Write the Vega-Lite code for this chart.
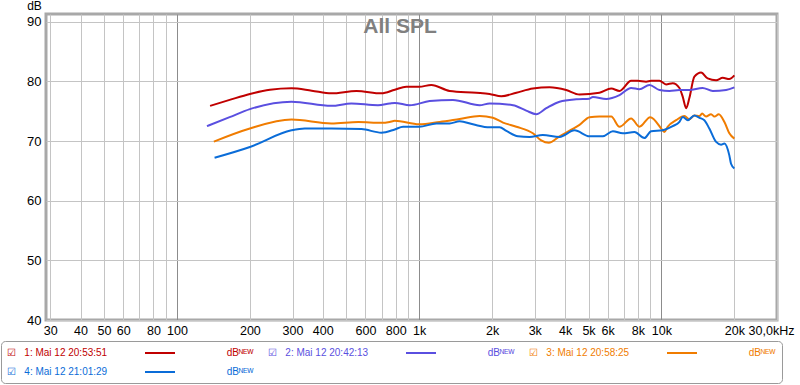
{
  "$schema": "https://vega.github.io/schema/vega-lite/v6.json",
  "width": 731,
  "height": 306,
  "autosize": {"type": "none"},
  "padding": {"left": 46, "top": 14, "right": 23, "bottom": 65},
  "background": "white",
  "title": {"text": "All SPL", "anchor": "middle", "frame": "group", "offset": -55, "dx": -11.5, "fontSize": 21, "fontWeight": "bold", "color": "#808080", "font": "Liberation Sans", "baseline": "alphabetic"},
  "datasets": {
    "spl": [
      {"series": "1: Mai 12 20:53:51", "f": 137, "db": 75.9},
      {"series": "1: Mai 12 20:53:51", "f": 165, "db": 76.9},
      {"series": "1: Mai 12 20:53:51", "f": 200, "db": 77.9},
      {"series": "1: Mai 12 20:53:51", "f": 242, "db": 78.6},
      {"series": "1: Mai 12 20:53:51", "f": 297, "db": 78.85},
      {"series": "1: Mai 12 20:53:51", "f": 360, "db": 78.45},
      {"series": "1: Mai 12 20:53:51", "f": 434, "db": 78.0},
      {"series": "1: Mai 12 20:53:51", "f": 551, "db": 78.4},
      {"series": "1: Mai 12 20:53:51", "f": 698, "db": 78.0},
      {"series": "1: Mai 12 20:53:51", "f": 793, "db": 78.6},
      {"series": "1: Mai 12 20:53:51", "f": 885, "db": 79.1},
      {"series": "1: Mai 12 20:53:51", "f": 1000, "db": 79.1},
      {"series": "1: Mai 12 20:53:51", "f": 1122, "db": 79.4},
      {"series": "1: Mai 12 20:53:51", "f": 1336, "db": 78.4},
      {"series": "1: Mai 12 20:53:51", "f": 1721, "db": 78.1},
      {"series": "1: Mai 12 20:53:51", "f": 1953, "db": 77.9},
      {"series": "1: Mai 12 20:53:51", "f": 2183, "db": 77.5},
      {"series": "1: Mai 12 20:53:51", "f": 2519, "db": 78.1},
      {"series": "1: Mai 12 20:53:51", "f": 2947, "db": 78.8},
      {"series": "1: Mai 12 20:53:51", "f": 3452, "db": 79.0},
      {"series": "1: Mai 12 20:53:51", "f": 4045, "db": 78.55},
      {"series": "1: Mai 12 20:53:51", "f": 4590, "db": 77.8},
      {"series": "1: Mai 12 20:53:51", "f": 5549, "db": 78.1},
      {"series": "1: Mai 12 20:53:51", "f": 6206, "db": 78.8},
      {"series": "1: Mai 12 20:53:51", "f": 6714, "db": 78.4},
      {"series": "1: Mai 12 20:53:51", "f": 7500, "db": 80.1},
      {"series": "1: Mai 12 20:53:51", "f": 7985, "db": 80.1},
      {"series": "1: Mai 12 20:53:51", "f": 8644, "db": 79.95},
      {"series": "1: Mai 12 20:53:51", "f": 9072, "db": 80.1},
      {"series": "1: Mai 12 20:53:51", "f": 9817, "db": 80.1},
      {"series": "1: Mai 12 20:53:51", "f": 10450, "db": 79.5},
      {"series": "1: Mai 12 20:53:51", "f": 11130, "db": 79.7},
      {"series": "1: Mai 12 20:53:51", "f": 11870, "db": 78.9},
      {"series": "1: Mai 12 20:53:51", "f": 12250, "db": 77.4},
      {"series": "1: Mai 12 20:53:51", "f": 12650, "db": 75.5},
      {"series": "1: Mai 12 20:53:51", "f": 13040, "db": 77.2},
      {"series": "1: Mai 12 20:53:51", "f": 13680, "db": 80.8},
      {"series": "1: Mai 12 20:53:51", "f": 14580, "db": 81.5},
      {"series": "1: Mai 12 20:53:51", "f": 15520, "db": 80.5},
      {"series": "1: Mai 12 20:53:51", "f": 16820, "db": 80.2},
      {"series": "1: Mai 12 20:53:51", "f": 17910, "db": 80.6},
      {"series": "1: Mai 12 20:53:51", "f": 19070, "db": 80.4},
      {"series": "1: Mai 12 20:53:51", "f": 20000, "db": 81.0},
      {"series": "2: Mai 12 20:42:13", "f": 133, "db": 72.5},
      {"series": "2: Mai 12 20:42:13", "f": 165, "db": 74.0},
      {"series": "2: Mai 12 20:42:13", "f": 200, "db": 75.35},
      {"series": "2: Mai 12 20:42:13", "f": 297, "db": 76.6},
      {"series": "2: Mai 12 20:42:13", "f": 434, "db": 75.9},
      {"series": "2: Mai 12 20:42:13", "f": 525, "db": 76.3},
      {"series": "2: Mai 12 20:42:13", "f": 676, "db": 76.0},
      {"series": "2: Mai 12 20:42:13", "f": 755, "db": 76.3},
      {"series": "2: Mai 12 20:42:13", "f": 793, "db": 76.4},
      {"series": "2: Mai 12 20:42:13", "f": 914, "db": 76.0},
      {"series": "2: Mai 12 20:42:13", "f": 1105, "db": 76.7},
      {"series": "2: Mai 12 20:42:13", "f": 1378, "db": 76.9},
      {"series": "2: Mai 12 20:42:13", "f": 1776, "db": 76.0},
      {"series": "2: Mai 12 20:42:13", "f": 1953, "db": 76.3},
      {"series": "2: Mai 12 20:42:13", "f": 2440, "db": 76.0},
      {"series": "2: Mai 12 20:42:13", "f": 2766, "db": 75.1},
      {"series": "2: Mai 12 20:42:13", "f": 3043, "db": 74.5},
      {"series": "2: Mai 12 20:42:13", "f": 3347, "db": 75.5},
      {"series": "2: Mai 12 20:42:13", "f": 3797, "db": 76.6},
      {"series": "2: Mai 12 20:42:13", "f": 4448, "db": 77.0},
      {"series": "2: Mai 12 20:42:13", "f": 5047, "db": 77.1},
      {"series": "2: Mai 12 20:42:13", "f": 5210, "db": 77.4},
      {"series": "2: Mai 12 20:42:13", "f": 5916, "db": 77.05},
      {"series": "2: Mai 12 20:42:13", "f": 6714, "db": 77.7},
      {"series": "2: Mai 12 20:42:13", "f": 7500, "db": 78.9},
      {"series": "2: Mai 12 20:42:13", "f": 8113, "db": 78.7},
      {"series": "2: Mai 12 20:42:13", "f": 8923, "db": 79.4},
      {"series": "2: Mai 12 20:42:13", "f": 9817, "db": 78.55},
      {"series": "2: Mai 12 20:42:13", "f": 10790, "db": 78.4},
      {"series": "2: Mai 12 20:42:13", "f": 11870, "db": 78.55},
      {"series": "2: Mai 12 20:42:13", "f": 13040, "db": 78.55},
      {"series": "2: Mai 12 20:42:13", "f": 14790, "db": 78.9},
      {"series": "2: Mai 12 20:42:13", "f": 16290, "db": 78.4},
      {"series": "2: Mai 12 20:42:13", "f": 18490, "db": 78.55},
      {"series": "2: Mai 12 20:42:13", "f": 20000, "db": 79.0},
      {"series": "3: Mai 12 20:58:25", "f": 142, "db": 69.9},
      {"series": "3: Mai 12 20:58:25", "f": 200, "db": 72.1},
      {"series": "3: Mai 12 20:58:25", "f": 297, "db": 73.6},
      {"series": "3: Mai 12 20:58:25", "f": 434, "db": 72.95},
      {"series": "3: Mai 12 20:58:25", "f": 561, "db": 73.2},
      {"series": "3: Mai 12 20:58:25", "f": 698, "db": 73.05},
      {"series": "3: Mai 12 20:58:25", "f": 755, "db": 73.2},
      {"series": "3: Mai 12 20:58:25", "f": 793, "db": 73.4},
      {"series": "3: Mai 12 20:58:25", "f": 1000, "db": 72.8},
      {"series": "3: Mai 12 20:58:25", "f": 1215, "db": 73.2},
      {"series": "3: Mai 12 20:58:25", "f": 1469, "db": 73.7},
      {"series": "3: Mai 12 20:58:25", "f": 1776, "db": 74.2},
      {"series": "3: Mai 12 20:58:25", "f": 2015, "db": 73.9},
      {"series": "3: Mai 12 20:58:25", "f": 2218, "db": 73.1},
      {"series": "3: Mai 12 20:58:25", "f": 2519, "db": 72.4},
      {"series": "3: Mai 12 20:58:25", "f": 2947, "db": 71.3},
      {"series": "3: Mai 12 20:58:25", "f": 3190, "db": 70.1},
      {"series": "3: Mai 12 20:58:25", "f": 3428, "db": 69.7},
      {"series": "3: Mai 12 20:58:25", "f": 3797, "db": 70.8},
      {"series": "3: Mai 12 20:58:25", "f": 4244, "db": 71.9},
      {"series": "3: Mai 12 20:58:25", "f": 4590, "db": 72.7},
      {"series": "3: Mai 12 20:58:25", "f": 5047, "db": 74.0},
      {"series": "3: Mai 12 20:58:25", "f": 5549, "db": 74.1},
      {"series": "3: Mai 12 20:58:25", "f": 6206, "db": 74.1},
      {"series": "3: Mai 12 20:58:25", "f": 6714, "db": 72.4},
      {"series": "3: Mai 12 20:58:25", "f": 7500, "db": 73.8},
      {"series": "3: Mai 12 20:58:25", "f": 8113, "db": 72.4},
      {"series": "3: Mai 12 20:58:25", "f": 8990, "db": 74.0},
      {"series": "3: Mai 12 20:58:25", "f": 10120, "db": 71.8},
      {"series": "3: Mai 12 20:58:25", "f": 10280, "db": 71.5},
      {"series": "3: Mai 12 20:58:25", "f": 10610, "db": 72.4},
      {"series": "3: Mai 12 20:58:25", "f": 11500, "db": 73.5},
      {"series": "3: Mai 12 20:58:25", "f": 12450, "db": 74.2},
      {"series": "3: Mai 12 20:58:25", "f": 13040, "db": 73.6},
      {"series": "3: Mai 12 20:58:25", "f": 13680, "db": 74.3},
      {"series": "3: Mai 12 20:58:25", "f": 14350, "db": 74.2},
      {"series": "3: Mai 12 20:58:25", "f": 14720, "db": 74.6},
      {"series": "3: Mai 12 20:58:25", "f": 15280, "db": 74.1},
      {"series": "3: Mai 12 20:58:25", "f": 16030, "db": 74.5},
      {"series": "3: Mai 12 20:58:25", "f": 16550, "db": 74.1},
      {"series": "3: Mai 12 20:58:25", "f": 17250, "db": 74.5},
      {"series": "3: Mai 12 20:58:25", "f": 18200, "db": 73.2},
      {"series": "3: Mai 12 20:58:25", "f": 19070, "db": 71.3},
      {"series": "3: Mai 12 20:58:25", "f": 20000, "db": 70.4},
      {"series": "4: Mai 12 21:01:29", "f": 143, "db": 67.2},
      {"series": "4: Mai 12 21:01:29", "f": 200, "db": 69.0},
      {"series": "4: Mai 12 21:01:29", "f": 297, "db": 71.8},
      {"series": "4: Mai 12 21:01:29", "f": 337, "db": 72.1},
      {"series": "4: Mai 12 21:01:29", "f": 434, "db": 72.1},
      {"series": "4: Mai 12 21:01:29", "f": 578, "db": 72.0},
      {"series": "4: Mai 12 21:01:29", "f": 698, "db": 71.4},
      {"series": "4: Mai 12 21:01:29", "f": 793, "db": 71.95},
      {"series": "4: Mai 12 21:01:29", "f": 858, "db": 72.4},
      {"series": "4: Mai 12 21:01:29", "f": 1000, "db": 72.4},
      {"series": "4: Mai 12 21:01:29", "f": 1178, "db": 72.95},
      {"series": "4: Mai 12 21:01:29", "f": 1336, "db": 72.95},
      {"series": "4: Mai 12 21:01:29", "f": 1469, "db": 73.3},
      {"series": "4: Mai 12 21:01:29", "f": 1667, "db": 72.8},
      {"series": "4: Mai 12 21:01:29", "f": 1953, "db": 72.3},
      {"series": "4: Mai 12 21:01:29", "f": 2147, "db": 72.3},
      {"series": "4: Mai 12 21:01:29", "f": 2291, "db": 71.7},
      {"series": "4: Mai 12 21:01:29", "f": 2556, "db": 70.8},
      {"series": "4: Mai 12 21:01:29", "f": 2855, "db": 70.7},
      {"series": "4: Mai 12 21:01:29", "f": 3238, "db": 71.0},
      {"series": "4: Mai 12 21:01:29", "f": 3797, "db": 70.7},
      {"series": "4: Mai 12 21:01:29", "f": 4378, "db": 71.8},
      {"series": "4: Mai 12 21:01:29", "f": 5047, "db": 70.8},
      {"series": "4: Mai 12 21:01:29", "f": 5730, "db": 70.8},
      {"series": "4: Mai 12 21:01:29", "f": 6300, "db": 71.65},
      {"series": "4: Mai 12 21:01:29", "f": 6925, "db": 71.3},
      {"series": "4: Mai 12 21:01:29", "f": 7740, "db": 71.5},
      {"series": "4: Mai 12 21:01:29", "f": 8506, "db": 70.5},
      {"series": "4: Mai 12 21:01:29", "f": 9072, "db": 71.65},
      {"series": "4: Mai 12 21:01:29", "f": 10120, "db": 71.8},
      {"series": "4: Mai 12 21:01:29", "f": 11130, "db": 72.5},
      {"series": "4: Mai 12 21:01:29", "f": 11870, "db": 73.2},
      {"series": "4: Mai 12 21:01:29", "f": 12250, "db": 74.05},
      {"series": "4: Mai 12 21:01:29", "f": 12850, "db": 73.5},
      {"series": "4: Mai 12 21:01:29", "f": 13680, "db": 74.3},
      {"series": "4: Mai 12 21:01:29", "f": 14350, "db": 73.9},
      {"series": "4: Mai 12 21:01:29", "f": 15040, "db": 73.5},
      {"series": "4: Mai 12 21:01:29", "f": 15770, "db": 72.1},
      {"series": "4: Mai 12 21:01:29", "f": 16820, "db": 69.85},
      {"series": "4: Mai 12 21:01:29", "f": 17630, "db": 69.4},
      {"series": "4: Mai 12 21:01:29", "f": 18200, "db": 69.6},
      {"series": "4: Mai 12 21:01:29", "f": 19070, "db": 67.6},
      {"series": "4: Mai 12 21:01:29", "f": 19380, "db": 66.2},
      {"series": "4: Mai 12 21:01:29", "f": 20000, "db": 65.4}
    ]
  },
  "data": {"name": "spl"},
  "mark": {"type": "line", "interpolate": "monotone", "strokeWidth": 2, "clip": true},
  "encoding": {
    "x": {
      "field": "f",
      "type": "quantitative",
      "scale": {"type": "log", "domain": [28.8, 30000], "nice": false},
      "axis": {
        "title": null,
        "values": [30, 40, 50, 60, 70, 80, 90, 100, 200, 300, 400, 500, 600, 700, 800, 900, 1000, 2000, 3000, 4000, 5000, 6000, 7000, 8000, 9000, 10000, 20000, 30000],
        "labelExpr": "(datum.value == 70 || datum.value == 90 || datum.value == 500 || datum.value == 700 || datum.value == 900 || datum.value == 7000 || datum.value == 9000) ? '' : datum.value == 30000 ? '30,0kHz' : datum.value >= 1000 ? (datum.value / 1000) + 'k' : '' + datum.value",
        "labelOverlap": false,
        "labelFlush": false,
        "labelBound": false,
        "ticks": false,
        "tickSize": 0,
        "domain": false,
        "labelFont": "Liberation Sans",
        "labelFontSize": 12.5,
        "labelColor": "#000000",
        "labelPadding": 4,
        "labelOffset": {"condition": {"test": "datum.value == 30000", "value": -6}, "value": 0},
        "gridColor": {"condition": {"test": "datum.value == 100 || datum.value == 1000 || datum.value == 10000", "value": "#8c8c8c"}, "value": "#c4c4c4"}
      }
    },
    "y": {
      "field": "db",
      "type": "quantitative",
      "scale": {"domain": [40, 91.3], "nice": false, "zero": false},
      "axis": {
        "title": "dB",
        "titleAngle": 0,
        "titleAlign": "center",
        "titleBaseline": "middle",
        "titleX": -12,
        "titleY": -9,
        "titleFont": "Liberation Sans",
        "titleFontSize": 12,
        "titleFontWeight": "normal",
        "titleColor": "#000000",
        "values": [40, 50, 60, 70, 80, 90],
        "ticks": false,
        "tickSize": 0,
        "domain": false,
        "labelFont": "Liberation Sans",
        "labelFontSize": 13,
        "labelColor": "#000000",
        "labelPadding": 5,
        "gridColor": "#c4c4c4"
      }
    },
    "color": {
      "field": "series",
      "type": "nominal",
      "scale": {
        "domain": ["1: Mai 12 20:53:51", "2: Mai 12 20:42:13", "3: Mai 12 20:58:25", "4: Mai 12 21:01:29"],
        "range": ["#c00000", "#5a4fe0", "#f07c00", "#0a6cd8"]
      },
      "legend": {
        "title": null,
        "orient": "none",
        "legendX": -45,
        "legendY": 327,
        "direction": "horizontal",
        "columns": 3,
        "columnPadding": 14,
        "rowPadding": 8,
        "padding": 6,
        "fillColor": "white",
        "strokeColor": "#9a9a9a",
        "cornerRadius": 4,
        "symbolType": "M-3,0H3",
        "symbolSize": 100,
        "symbolStrokeWidth": 2,
        "labelFont": "Liberation Sans",
        "labelFontSize": 10,
        "labelLimit": 400,
        "labelExpr": "'\u2611\u00a0\u00a0\u00a0' + pad(datum.label, 61, '\u00a0') + 'dB\u1d3a\u1d31\u1d42\u00a0\u00a0\u00a0\u00a0\u00a0'",
        "encode": {
          "symbols": {"update": {"x": {"value": 153}, "fill": {"value": "transparent"}}},
          "labels": {"update": {"x": {"value": 0}, "fill": {"scale": "color", "field": "value"}}}
        }
      }
    }
  },
  "config": {
    "view": {"stroke": "#a8a8a8", "strokeWidth": 3},
    "font": "Liberation Sans"
  }
}
